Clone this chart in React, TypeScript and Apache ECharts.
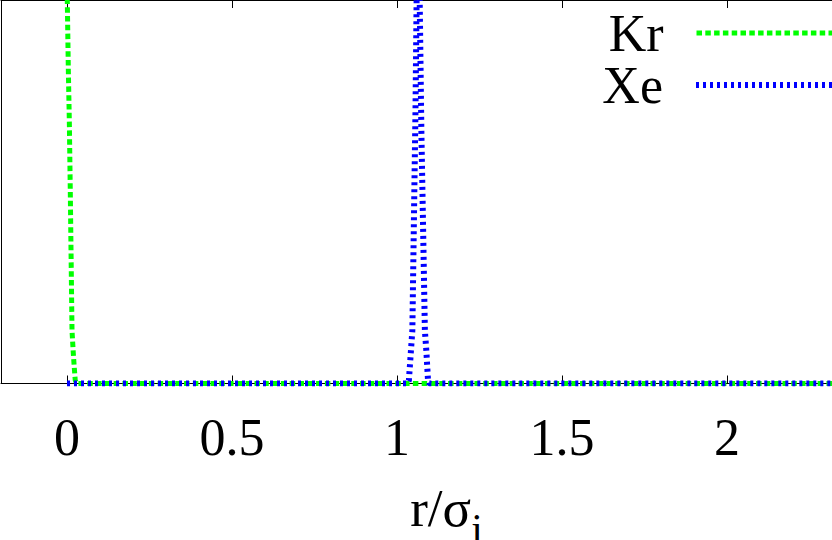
import React, { useEffect, useRef } from 'react';
import * as echarts from 'echarts';

// Reduced distance r/sigma_i and pair-correlation values
const krR = [0, 0.004, 0.007, 0.01, 0.013, 0.0152, 0.019, 0.022, 0.025, 0.03, 2.5];
const krG = [10.5, 8.2, 6.87, 5.0, 2.9, 1.38, 0.8, 0.42, 0.08, 0, 0];
const xeR = [0, 1.031, 1.036, 1.041, 1.0465, 1.051, 1.056, 1.06, 1.064, 1.068, 1.074, 1.079, 1.0845, 1.089, 1.094, 1.098, 2.5];
const xeG = [0, 0, 0.08, 0.7, 1.38, 4.1, 7.1, 10.5, 14, 10.5, 6.5, 4.1, 1.38, 0.84, 0.08, 0, 0];
const xTicks = [0, 0.5, 1, 1.5, 2];
const seriesNames = ['Kr', 'Xe'];

const FONT = "'Liberation Serif', 'Times New Roman', serif";

export default function App() {
  const ref = useRef<HTMLDivElement>(null);
  useEffect(() => {
    if (!ref.current) return;
    const chart = echarts.init(ref.current, undefined, { renderer: 'svg' });
    const krData = krR.map((r, i) => [r, krG[i]]);
    const xeData = xeR.map((r, i) => [r, xeG[i]]);
    const legendBase = (name: string, top: number, width: number, dash: number[]) => ({
      data: [name],
      orient: 'vertical',
      align: 'right',
      right: -47,
      top,
      padding: 0,
      itemWidth: 180,
      itemHeight: 52,
      textStyle: { fontFamily: FONT, fontSize: 52, color: '#000', padding: [0, 28, 0, 0] },
      lineStyle: { width, type: dash, cap: 'butt' },
      itemStyle: { opacity: 0 },
    });
    chart.setOption({
      animation: false,
      backgroundColor: '#fff',
      grid: { left: 1, right: -60, top: 0, height: 383.5, containLabel: false, outerBoundsMode: 'none' },
      legend: [
        legendBase(seriesNames[0], 7, 5, [5.5, 3.3]),
        legendBase(seriesNames[1], 59, 6, [3, 4]),
      ],
      xAxis: [
        {
          type: 'value',
          position: 'bottom',
          min: -0.2,
          max: 2.5,
          axisLine: { show: true, onZero: false, lineStyle: { color: '#000', width: 1 } },
          axisTick: { show: true, inside: true, length: 8, customValues: xTicks, lineStyle: { color: '#000' } },
          axisLabel: {
            show: true,
            customValues: xTicks,
            margin: 28,
            fontFamily: FONT,
            fontSize: 52,
            color: '#000',
          },
          splitLine: { show: false },
          name: '{a|r/σ}{b|i}',
          nameLocation: 'middle',
          nameGap: 98,
          nameTextStyle: {
            rich: {
              a: { fontFamily: FONT, fontSize: 53, color: '#000', lineHeight: 53, verticalAlign: 'top' },
              b: { fontFamily: FONT, fontSize: 42, color: '#000', lineHeight: 42, padding: [26, 0, 0, 0], verticalAlign: 'top' },
            },
          },
        },
        {
          type: 'value',
          position: 'top',
          min: -0.2,
          max: 2.5,
          axisLine: { show: true, onZero: false, lineStyle: { color: '#000', width: 1 } },
          axisTick: { show: true, inside: true, length: 8, customValues: xTicks, lineStyle: { color: '#000' } },
          axisLabel: { show: false },
          splitLine: { show: false },
        },
      ],
      yAxis: {
        type: 'value',
        min: 0,
        max: 10,
        axisLine: { show: true, onZero: false, lineStyle: { color: '#000', width: 1 } },
        axisTick: { show: false },
        axisLabel: { show: false },
        splitLine: { show: false },
      },
      series: [
        {
          name: seriesNames[0],
          type: 'line',
          data: krData,
          symbol: 'none',
          clip: true,
          lineStyle: { color: '#00ff00', width: 5, type: [5.5, 3.3], cap: 'butt' },
          itemStyle: { color: '#00ff00' },
        },
        {
          name: seriesNames[1],
          type: 'line',
          data: xeData,
          symbol: 'none',
          clip: true,
          lineStyle: { color: '#0000ff', width: 6, type: [3, 4], cap: 'butt' },
          itemStyle: { color: '#0000ff' },
        },
      ],
    });
    return () => chart.dispose();
  }, []);
  return <div ref={ref} style={{ position: 'absolute', left: 0, top: 0, width: 832, height: 540 }} />;
}
